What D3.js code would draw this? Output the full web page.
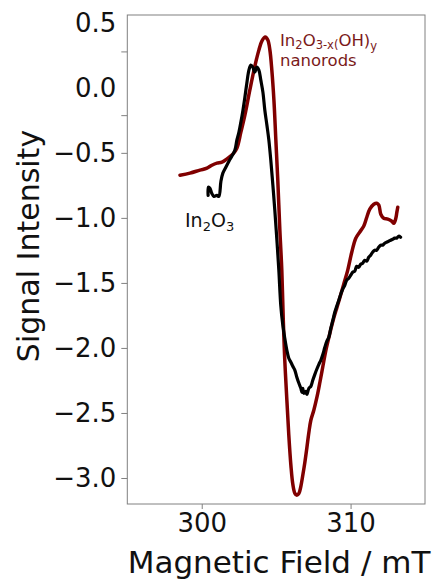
<!DOCTYPE html>
<html>
<head>
<meta charset="utf-8">
<script src="https://cdn.jsdelivr.net/npm/d3@7/dist/d3.min.js"></script>
<style>
  html, body { margin: 0; padding: 0; background: #fff; }
  svg { display: block; font-family: "DejaVu Sans", sans-serif; }
</style>
</head>
<body>
<svg id="chart" width="433" height="579"></svg>
<script>
// ---- data (field in mT, signal intensity) ----
const nanorodsField = [298.54,299.21,299.88,300.35,300.68,301.02,301.36,301.76,302.09,302.36,302.63,302.90,303.23,303.57,303.84,304.04,304.27,304.44,304.58,304.71,304.85,304.98,305.11,305.25,305.38,305.48,305.58,305.72,305.85,305.99,306.12,306.26,306.39,306.53,306.66,306.79,306.93,307.06,307.20,307.33,307.53,307.74,307.94,308.14,308.34,308.61,308.87,309.07,309.27,309.54,309.81,310.08,310.35,310.61,310.88,311.09,311.29,311.56,311.76,311.90,312.03,312.23,312.50,312.77,312.91,313.04,313.11,313.17];
const nanorodsSignal = [-0.672,-0.656,-0.633,-0.618,-0.595,-0.579,-0.572,-0.541,-0.510,-0.464,-0.341,-0.210,-0.018,0.167,0.290,0.359,0.390,0.367,0.290,0.136,-0.095,-0.402,-0.710,-1.095,-1.402,-1.787,-2.095,-2.402,-2.671,-2.902,-3.048,-3.118,-3.133,-3.118,-3.064,-2.979,-2.879,-2.771,-2.648,-2.556,-2.479,-2.379,-2.264,-2.141,-2.018,-1.887,-1.771,-1.694,-1.618,-1.510,-1.402,-1.264,-1.156,-1.110,-1.064,-0.995,-0.933,-0.895,-0.887,-0.902,-0.972,-1.003,-1.010,-1.026,-1.041,-1.003,-0.956,-0.918];

const in2o3Field = [300.43,300.45,300.55,300.68,300.82,301.02,301.15,301.29,301.42,301.62,301.83,302.03,302.23,302.36,302.50,302.63,302.77,302.90,303.03,303.17,303.30,303.43,303.57,303.70,303.84,303.97,304.11,304.24,304.38,304.51,304.64,304.78,304.91,305.05,305.18,305.31,305.45,305.58,305.72,305.85,305.99,306.12,306.26,306.39,306.53,306.66,306.73,306.79,306.86,306.99,307.06,307.20,307.33,307.46,307.60,307.73,307.87,308.00,308.14,308.27,308.40,308.54,308.67,308.81,308.94,309.07,309.21,309.34,309.47,309.61,309.74,309.88,310.01,310.14,310.28,310.41,310.55,310.68,310.81,310.95,311.08,311.22,311.35,311.48,311.62,311.75,311.89,312.02,312.15,312.29,312.42,312.56,312.69,312.83,312.96,313.10,313.23,313.36];
const in2o3Signal = [-0.827,-0.764,-0.772,-0.812,-0.835,-0.827,-0.835,-0.718,-0.656,-0.610,-0.564,-0.525,-0.479,-0.402,-0.341,-0.264,-0.172,-0.072,0.036,0.136,0.175,0.159,0.121,0.159,0.136,0.059,-0.033,-0.172,-0.288,-0.402,-0.556,-0.749,-0.941,-1.172,-1.402,-1.672,-1.826,-1.926,-2.018,-2.079,-2.110,-2.141,-2.172,-2.225,-2.272,-2.310,-2.341,-2.310,-2.349,-2.333,-2.357,-2.310,-2.295,-2.249,-2.203,-2.164,-2.126,-2.095,-2.049,-1.995,-1.949,-1.918,-1.849,-1.787,-1.726,-1.680,-1.633,-1.587,-1.549,-1.518,-1.479,-1.464,-1.441,-1.418,-1.410,-1.372,-1.380,-1.356,-1.349,-1.326,-1.333,-1.303,-1.287,-1.264,-1.249,-1.249,-1.226,-1.210,-1.210,-1.195,-1.187,-1.180,-1.172,-1.164,-1.156,-1.156,-1.141,-1.149];

const xTicks = [300, 310];
const yTickLabels = [0.5, 0.0, -0.5, -1.0, -1.5, -2.0, -2.5, -3.0];
const yTickMarks = [0.28, -0.21, -0.5, -1.0, -1.5, -2.0, -2.5, -3.0];
const xDomain = [295, 315];
const yDomain = [-3.2, 0.56];

// ---- layout ----
const svg = d3.select("#chart");
const L = 127.3, R = 425, T = 15, B = 504;
const x = d3.scaleLinear().domain(xDomain).range([L, R]);
const y = d3.scaleLinear().domain(yDomain).range([B, T]);
const axisColor = "#808080";
const fmt = d3.format(".1f");

// curves
const line = d3.line().x(d => x(d[0])).y(d => y(d[1])).curve(d3.curveCatmullRom.alpha(0.5));
const red = nanorodsField.map((f, i) => [f, nanorodsSignal[i]]);
const blk = in2o3Field.map((f, i) => [f, in2o3Signal[i]]);

svg.append("path").datum(red).attr("d", line)
  .attr("fill", "none").attr("stroke", "#800000").attr("stroke-width", 3.5)
  .attr("stroke-linejoin", "round").attr("stroke-linecap", "round");
svg.append("path").datum(blk).attr("d", line)
  .attr("fill", "none").attr("stroke", "#000").attr("stroke-width", 3.2)
  .attr("stroke-linejoin", "round").attr("stroke-linecap", "round");

// frame
svg.append("rect").attr("x", L).attr("y", T).attr("width", R - L).attr("height", B - T)
  .attr("fill", "none").attr("stroke", axisColor).attr("stroke-width", 1);

// y tick labels
const yLab = svg.append("g").attr("transform", `translate(${L},0)`)
  .call(d3.axisLeft(y).tickValues(yTickLabels).tickSize(0).tickPadding(11).tickFormat(fmt));
yLab.select(".domain").remove();
yLab.selectAll("text").attr("font-size", 26).attr("fill", "#111")
  .attr("font-family", "DejaVu Sans");

// y tick marks
const yMk = svg.append("g").attr("transform", `translate(${L},0)`)
  .call(d3.axisLeft(y).tickValues(yTickMarks).tickSize(6).tickFormat(""));
yMk.select(".domain").remove();
yMk.selectAll("line").attr("stroke", axisColor);

// x axis
const xAx = svg.append("g").attr("transform", `translate(0,${B})`)
  .call(d3.axisBottom(x).tickValues(xTicks).tickSize(5).tickPadding(5).tickFormat(d3.format("d")));
xAx.select(".domain").remove();
xAx.selectAll("line").attr("stroke", axisColor);
xAx.selectAll("text").attr("font-size", 26).attr("fill", "#111")
  .attr("font-family", "DejaVu Sans");

// axis titles
svg.append("text").attr("x", 279).attr("y", 573).attr("text-anchor", "middle")
  .attr("font-size", 31).attr("fill", "#111").text("Magnetic Field / mT");
svg.append("text").attr("transform", "translate(39,246) rotate(-90)")
  .attr("text-anchor", "middle").attr("font-size", 30).attr("fill", "#111")
  .text("Signal Intensity");

// annotations
const a1 = svg.append("text").attr("x", 185).attr("y", 227).attr("font-size", 19).attr("fill", "#111");
a1.append("tspan").text("In");
a1.append("tspan").attr("font-size", 13).attr("dy", 4).text("2");
a1.append("tspan").attr("dy", -4).text("O");
a1.append("tspan").attr("font-size", 13).attr("dy", 4).text("3");

const labColor = "#7a1a1a";
const a2 = svg.append("text").attr("x", 280).attr("y", 46).attr("font-size", 16.5).attr("fill", labColor);
a2.append("tspan").text("In");
a2.append("tspan").attr("font-size", 11.5).attr("dy", 3).text("2");
a2.append("tspan").attr("dy", -3).text("O");
a2.append("tspan").attr("font-size", 11.5).attr("dy", 3).text("3-x(");
a2.append("tspan").attr("dy", -3).text("OH)");
a2.append("tspan").attr("font-size", 11.5).attr("dy", 4).text("y");
svg.append("text").attr("x", 280).attr("y", 66).attr("font-size", 16.5).attr("fill", labColor).text("nanorods");
</script>
</body>
</html>
